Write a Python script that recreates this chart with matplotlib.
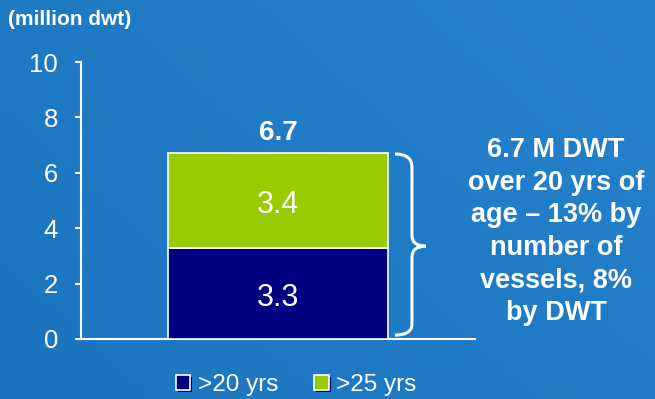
import matplotlib.pyplot as plt
import matplotlib.patheffects as pe
from matplotlib.colors import LinearSegmentedColormap
from matplotlib.path import Path
from matplotlib.patches import PathPatch, Rectangle
import numpy as np

plt.rcParams['font.family'] = ['Liberation Sans', 'DejaVu Sans']

# stacked bar: dwt of older vessels (million dwt)
segments = ['>20 yrs', '>25 yrs']
values = [3.3, 3.4]
colors = ['#000080', '#99CC00']
total_label = '6.7'
note = '6.7 M DWT\nover 20 yrs of\nage \u2013 13% by\nnumber of\nvessels, 8%\nby DWT'
yticks = [0, 2, 4, 6, 8, 10]

bg = '#1E78C3'
fig = plt.figure(figsize=(6.55, 3.99), dpi=100, facecolor=bg)

# soft background gradient, a touch lighter to the upper right
bgax = fig.add_axes([0, 0, 1, 1], zorder=-1)
gx, gy = np.meshgrid(np.linspace(0, 1, 200), np.linspace(0, 1, 200))
grad = 0.6 * gx + 0.4 * gy
bgax.imshow(grad, extent=[0, 1, 0, 1], origin='lower', aspect='auto',
            cmap=LinearSegmentedColormap.from_list('bg', ['#1B74BF', '#2582CC']))
bgax.axis('off')

ax = fig.add_axes([0.1237, 0.1504, 0.6015, 0.6942])
ax.set_facecolor('none')

bottom = 0
for seg, v, c in zip(segments, values, colors):
    ax.bar(0, v, width=0.556, bottom=bottom, color=c, edgecolor='white',
           linewidth=1.2, label=seg, zorder=3)
    ax.text(0, bottom + v / 2 - 0.05, f'{v:.1f}', ha='center',
            va='center_baseline', color='white', fontsize=22, zorder=4)
    bottom += v

ax.text(0, bottom + 0.85, total_label, ha='center', va='center_baseline',
        color='white', fontsize=20, fontweight='bold')

ax.set_xlim(-0.5, 0.5)
ax.set_ylim(0, 10)
ax.set_yticks(yticks)
ax.set_xticks([])
for s in ['top', 'right']:
    ax.spines[s].set_visible(False)
for s in ['left', 'bottom']:
    ax.spines[s].set_color('white')
    ax.spines[s].set_linewidth(1.5)
ax.tick_params(axis='y', colors='white', labelsize=18.5, length=4.5, width=1.5,
               pad=12)

# curly brace next to the bar
verts = [(0.297, 6.68), (0.340, 6.68), (0.340, 6.2),
         (0.340, 3.75),
         (0.340, 3.35), (0.375, 3.35),
         (0.340, 3.35), (0.340, 2.95),
         (0.340, 0.55),
         (0.340, 0.14), (0.297, 0.14)]
codes = [Path.MOVETO, Path.CURVE3, Path.CURVE3,
         Path.LINETO,
         Path.CURVE3, Path.CURVE3,
         Path.CURVE3, Path.CURVE3,
         Path.LINETO,
         Path.CURVE3, Path.CURVE3]
ax.add_patch(PathPatch(Path(verts, codes), facecolor='none', edgecolor='white',
                       linewidth=2.2, clip_on=False, zorder=4))

fig.text(0.849, 0.42, note, ha='center', va='center', color='white',
         fontsize=19.5, fontweight='bold', linespacing=1.33)

fig.text(0.012, 0.95, '(million dwt)', ha='left', va='center', color='white',
         fontsize=15, fontweight='bold')

# legend with small drop-shadowed swatches
shadow = [pe.SimplePatchShadow(offset=(1.5, -1.5), shadow_rgbFace='#00003A',
                               alpha=1.0), pe.Normal()]
handles = [Rectangle((0, 0), 1, 1, facecolor=c, edgecolor='white',
                     linewidth=1.2, path_effects=shadow) for c in colors]
fig.legend(handles, segments, loc='center', bbox_to_anchor=(0.452, 0.035),
           ncol=2, frameon=False, fontsize=17.5, labelcolor='white',
           handlelength=0.6, handleheight=0.6, handletextpad=0.3,
           columnspacing=1.5, borderpad=0)

fig.savefig('out.png', dpi=100, facecolor=bg)
